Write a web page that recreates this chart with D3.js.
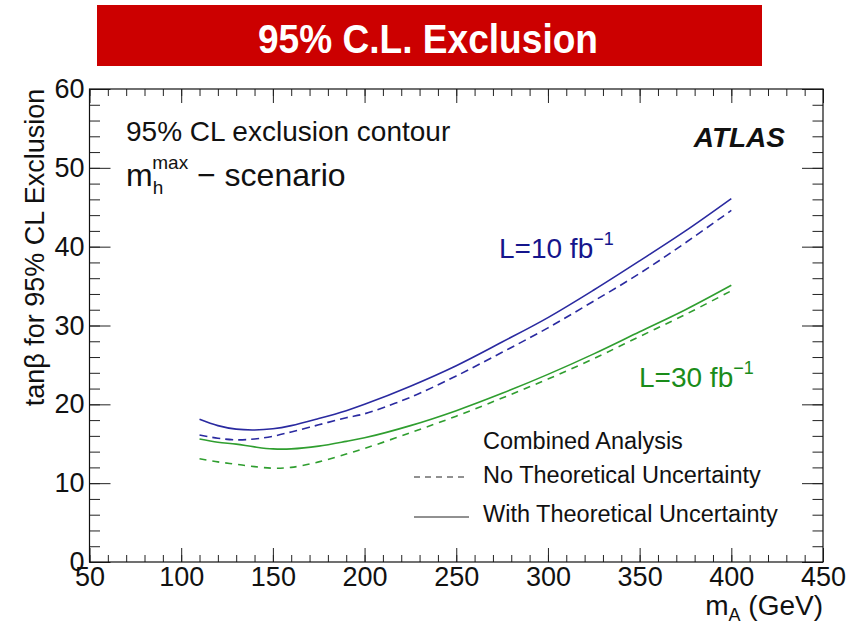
<!DOCTYPE html>
<html>
<head>
<meta charset="utf-8">
<script src="https://cdn.jsdelivr.net/npm/d3@7/dist/d3.min.js"></script>
<style>
  html, body { margin: 0; padding: 0; background: #fff; }
  svg { display: block; font-family: "Liberation Sans", Arial, Helvetica, sans-serif; }
</style>
</head>
<body>
<svg id="chart" width="861" height="625"></svg>
<script>
// Pseudoscalar mass points (GeV)
const massA = [110, 120, 130, 140, 150, 160, 175, 190, 200, 225, 250, 275, 300, 325, 350, 375, 400];

// tan(beta) exclusion limits, L = 10 fb^-1
const lumi10WithTheory = [18.1, 17.3, 16.85, 16.75, 16.9, 17.3, 18.2, 19.2, 20.0, 22.3, 24.9, 27.9, 31.0, 34.5, 38.2, 42.0, 46.1];
const lumi10NoTheory   = [16.1, 15.7, 15.5, 15.6, 15.95, 16.5, 17.4, 18.3, 18.8, 20.9, 23.6, 26.6, 29.7, 33.1, 36.6, 40.5, 44.6];

// tan(beta) exclusion limits, L = 30 fb^-1
const lumi30WithTheory = [15.6, 15.2, 14.95, 14.6, 14.35, 14.35, 14.7, 15.3, 15.75, 17.3, 19.2, 21.4, 23.8, 26.4, 29.2, 32.0, 35.1];
const lumi30NoTheory   = [13.1, 12.7, 12.4, 12.1, 11.9, 12.0, 12.7, 13.7, 14.4, 16.4, 18.5, 20.8, 23.2, 25.8, 28.6, 31.4, 34.4];

// Axis ticks
const xMajorTicks = [50, 100, 150, 200, 250, 300, 350, 400, 450];
const xMinorTicks = d3.range(50, 451, 10);
const yMajorTicks = [0, 10, 20, 30, 40, 50, 60];
const yMinorTicks = d3.range(0, 61, 2);

const svg = d3.select("#chart");

// Title banner
svg.append("rect").attr("x", 97).attr("y", 5).attr("width", 665).attr("height", 61).attr("fill", "#cc0000");
svg.append("text")
  .attr("x", 258).attr("y", 53)
  .attr("font-size", 40).attr("font-weight", "bold").attr("fill", "#fff")
  .attr("textLength", 340).attr("lengthAdjust", "spacingAndGlyphs")
  .text("95% C.L. Exclusion");

// Plot frame geometry
const frameL = 89.5, frameR = 823, frameT = 89, frameB = 562;
const x = d3.scaleLinear().domain([50, 450]).range([frameL, frameR]);
const y = d3.scaleLinear().domain([0, 60]).range([frameB, frameT]);

const axes = svg.append("g").attr("class", "axes");

function styleAxis(g) {
  g.select(".domain").remove();
  g.selectAll(".tick line").attr("stroke", "#222").attr("stroke-width", 1);
  g.selectAll(".tick text").attr("fill", "#111");
}

// Bottom axis: minor and major ticks pointing inward
axes.append("g").attr("transform", `translate(0,${frameB})`)
  .call(d3.axisBottom(x).tickValues(xMinorTicks).tickSize(-7).tickFormat(""))
  .call(styleAxis);
axes.append("g").attr("transform", `translate(0,${frameB})`)
  .call(d3.axisBottom(x).tickValues(xMajorTicks).tickSize(-14).tickPadding(5).tickFormat(d3.format("d")))
  .call(styleAxis)
  .call(g => g.selectAll(".tick text").attr("font-size", 27).attr("dy", "0.71em")
    .attr("font-family", "'Liberation Sans', Arial, sans-serif"));

// Top axis ticks
axes.append("g").attr("transform", `translate(0,${frameT})`)
  .call(d3.axisTop(x).tickValues(xMinorTicks).tickSize(-7).tickFormat(""))
  .call(styleAxis);
axes.append("g").attr("transform", `translate(0,${frameT})`)
  .call(d3.axisTop(x).tickValues(xMajorTicks).tickSize(-14).tickFormat(""))
  .call(styleAxis);

// Left axis
axes.append("g").attr("transform", `translate(${frameL},0)`)
  .call(d3.axisLeft(y).tickValues(yMinorTicks).tickSize(-10.5).tickFormat(""))
  .call(styleAxis);
axes.append("g").attr("transform", `translate(${frameL},0)`)
  .call(d3.axisLeft(y).tickValues(yMajorTicks).tickSize(-21).tickPadding(5).tickFormat(d3.format("d")))
  .call(styleAxis)
  .call(g => g.selectAll(".tick text").attr("font-size", 27)
    .attr("font-family", "'Liberation Sans', Arial, sans-serif"));

// Right axis
axes.append("g").attr("transform", `translate(${frameR},0)`)
  .call(d3.axisRight(y).tickValues(yMinorTicks).tickSize(-10.5).tickFormat(""))
  .call(styleAxis);
axes.append("g").attr("transform", `translate(${frameR},0)`)
  .call(d3.axisRight(y).tickValues(yMajorTicks).tickSize(-21).tickFormat(""))
  .call(styleAxis);

// Frame
svg.append("rect")
  .attr("x", frameL).attr("y", frameT).attr("width", frameR - frameL).attr("height", frameB - frameT)
  .attr("fill", "none").attr("stroke", "#111").attr("stroke-width", 1.2);

// Axis titles
svg.append("text")
  .attr("transform", `translate(44,${(frameT + frameB) / 2 - 78}) rotate(-90)`)
  .attr("text-anchor", "middle").attr("font-size", 27).attr("fill", "#111")
  .text("tanβ for 95% CL Exclusion");

const xTitle = svg.append("text")
  .attr("x", frameR).attr("y", 615).attr("text-anchor", "end")
  .attr("font-size", 28).attr("fill", "#111");
xTitle.append("tspan").text("m");
xTitle.append("tspan").attr("font-size", 18).attr("dy", 6).text("A");
xTitle.append("tspan").attr("dy", -6).text(" (GeV)");

// Exclusion curves
const line = d3.line()
  .x(d => x(d[0]))
  .y(d => y(d[1]))
  .curve(d3.curveCatmullRom.alpha(0.5));

const blue = "#2a2aa0", green = "#2f9e2f";
const curves = [
  { values: lumi10WithTheory, color: blue,  dash: null },
  { values: lumi10NoTheory,   color: blue,  dash: "8,5" },
  { values: lumi30WithTheory, color: green, dash: null },
  { values: lumi30NoTheory,   color: green, dash: "7,6" }
];
svg.append("g").selectAll("path")
  .data(curves)
  .join("path")
  .attr("d", c => line(massA.map((m, i) => [m, c.values[i]])))
  .attr("fill", "none")
  .attr("stroke", c => c.color)
  .attr("stroke-width", 1.6)
  .attr("stroke-dasharray", c => c.dash);

// Annotations
svg.append("text").attr("x", 126).attr("y", 141).attr("font-size", 28).attr("fill", "#111")
  .text("95% CL exclusion contour");

const scen = svg.append("text").attr("x", 126).attr("y", 186).attr("font-size", 32).attr("fill", "#111");
scen.append("tspan").text("m");
scen.append("tspan").attr("font-size", 19).attr("dy", 8).text("h");
scen.append("tspan").attr("font-size", 19).attr("dx", -11).attr("dy", -25).text("max");
scen.append("tspan").attr("dy", 17).text(" − scenario");

svg.append("text").attr("x", 785).attr("y", 147).attr("text-anchor", "end")
  .attr("font-size", 28).attr("font-weight", "bold").attr("font-style", "italic").attr("fill", "#111")
  .text("ATLAS");

function lumiLabel(xp, yp, num, color) {
  const t = svg.append("text").attr("x", xp).attr("y", yp).attr("font-size", 28).attr("fill", color);
  t.append("tspan").text(`L=${num} fb`);
  t.append("tspan").attr("font-size", 18).attr("dy", -13).text("−1");
}
lumiLabel(499, 258, 10, "#15158c");
lumiLabel(639, 387, 30, "#1a8c1a");

// Legend
const legend = svg.append("g").attr("font-size", 23.5).attr("fill", "#111");
legend.append("text").attr("x", 483).attr("y", 449).text("Combined Analysis");
legend.append("text").attr("x", 483).attr("y", 483).text("No Theoretical Uncertainty");
legend.append("text").attr("x", 483).attr("y", 522).text("With Theoretical Uncertainty");
legend.append("line").attr("x1", 414).attr("x2", 466).attr("y1", 477).attr("y2", 477)
  .attr("stroke", "#222").attr("stroke-width", 1).attr("stroke-dasharray", "6,5");
legend.append("line").attr("x1", 414).attr("x2", 469).attr("y1", 517).attr("y2", 517)
  .attr("stroke", "#222").attr("stroke-width", 1);
</script>
</body>
</html>
